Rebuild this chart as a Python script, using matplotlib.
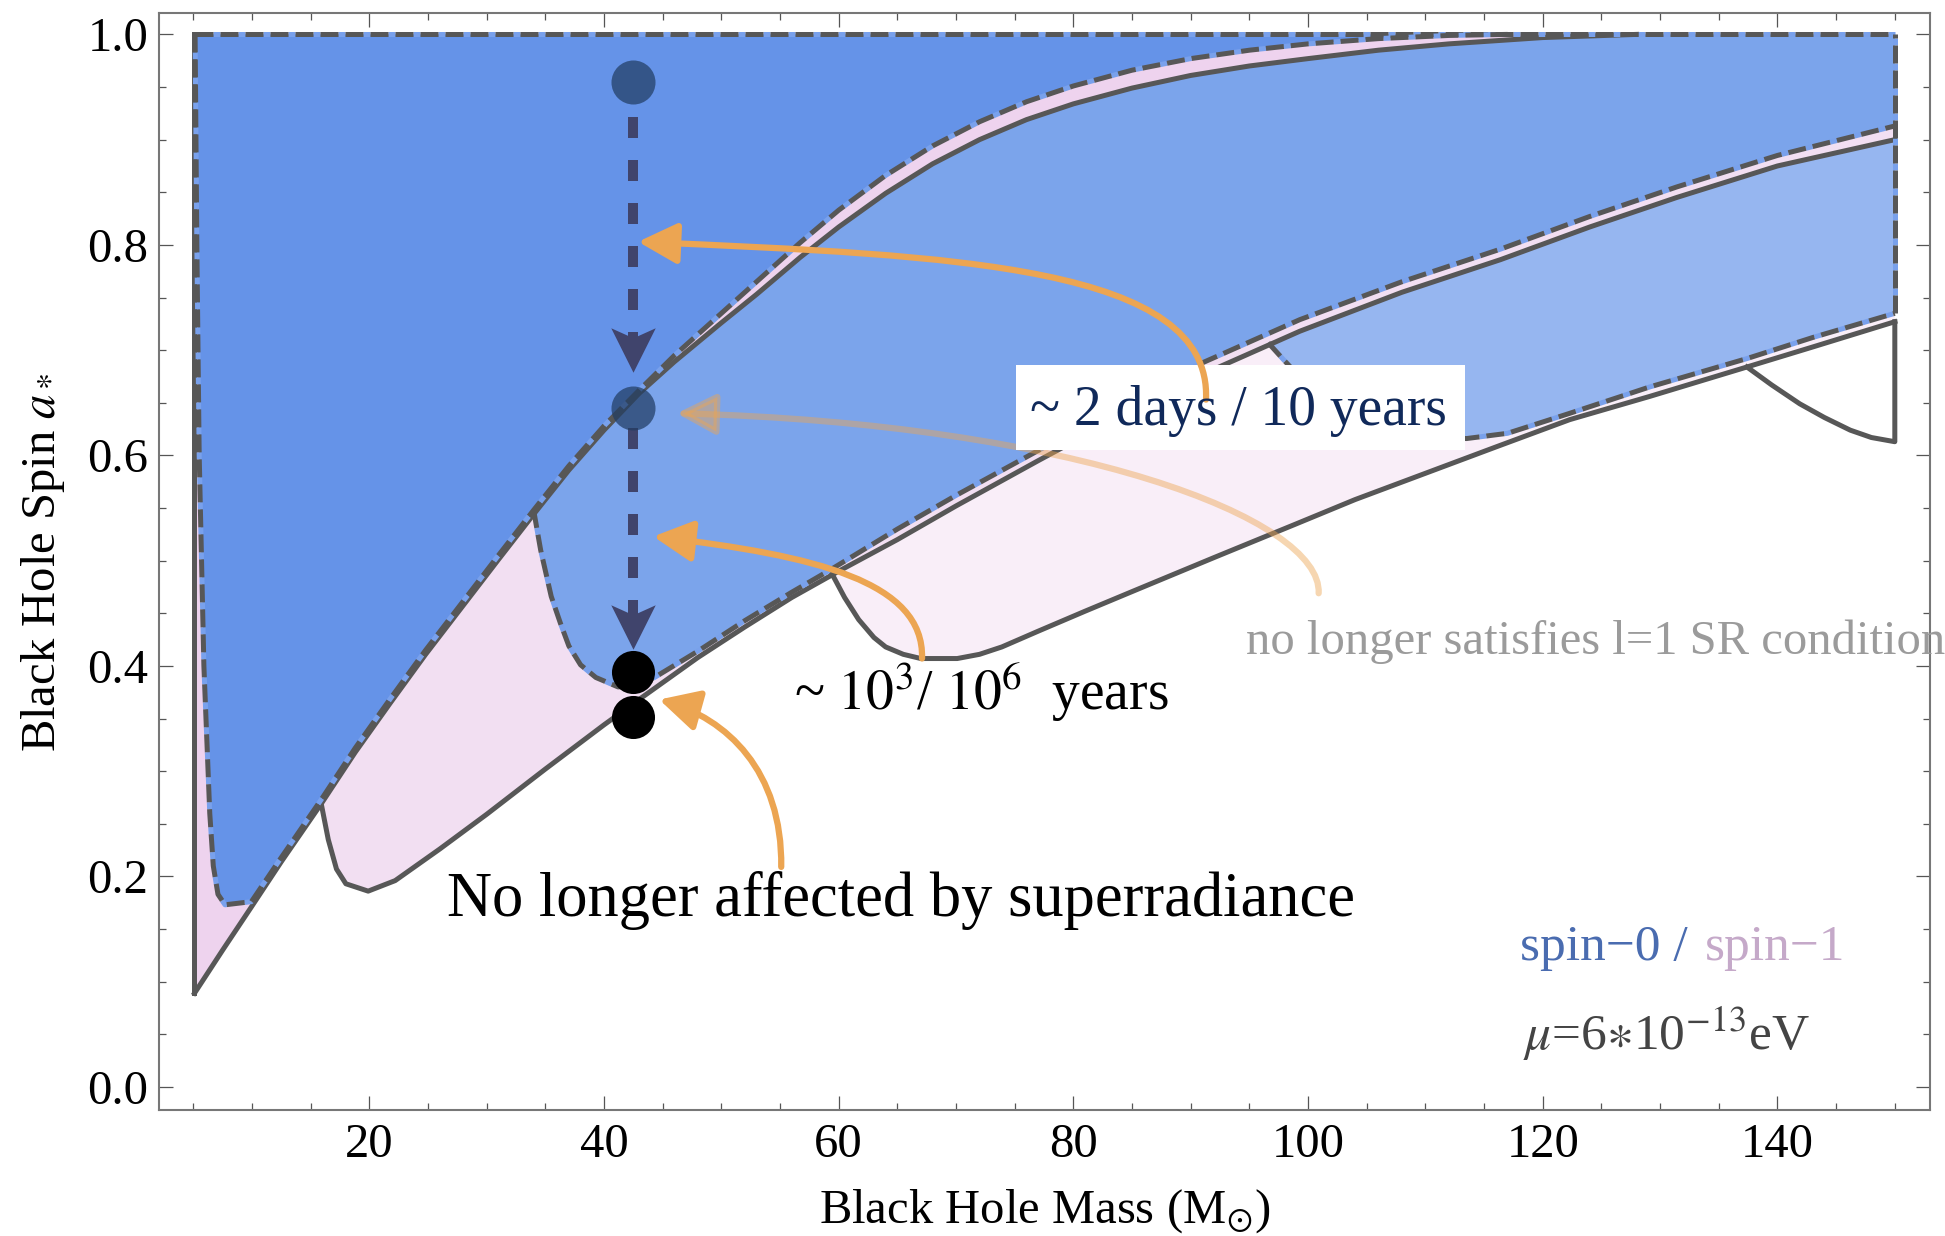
import numpy as np
import matplotlib.pyplot as plt
from matplotlib.path import Path
from matplotlib.patches import FancyArrowPatch, Rectangle, Polygon
from matplotlib.ticker import MultipleLocator, FixedLocator, FormatStrFormatter

plt.rcParams['font.family'] = ['Liberation Serif', 'DejaVu Serif']
plt.rcParams['mathtext.fontset'] = 'stix'

# ---- boundaries (mass in Msun, spin a*) ----
# spin-1 (solid lines)
a1_m = [5.1, 7.5, 9.95, 12.5, 15.9, 18.8, 21.8, 24.8, 27.9, 31, 34, 37, 40, 43, 46, 50, 53, 56.7,
        60, 64, 68, 72, 76, 80, 85, 90, 95, 100, 106, 112, 120, 128]
a1_s = [0.089, 0.130, 0.171, 0.214, 0.269, 0.318, 0.365, 0.411, 0.456, 0.501, 0.544, 0.586, 0.624,
        0.659, 0.689, 0.726, 0.753, 0.788, 0.817, 0.849, 0.877, 0.900, 0.919, 0.934, 0.949, 0.961,
        0.970, 0.977, 0.985, 0.991, 0.997, 1.0]
b1_m = [15.9, 16.5, 17.2, 18.0, 19.9, 22.2, 26, 30, 35, 40, 43.1, 48, 52, 56, 60, 65, 70, 77, 84,
        91, 99.3, 108, 116.4, 124, 131.4, 140, 150]
b1_s = [0.269, 0.235, 0.207, 0.193, 0.186, 0.196, 0.226, 0.259, 0.302, 0.344, 0.369, 0.408, 0.437,
        0.465, 0.490, 0.520, 0.552, 0.595, 0.637, 0.677, 0.718, 0.755, 0.786, 0.817, 0.845, 0.875,
        0.900]
c1_m = [59.4, 60.5, 61.7, 63, 64, 65.5, 67, 70.1, 72, 73.9, 77, 81, 85.3, 92, 99, 104, 110, 116,
        122.3, 129.1, 137.4, 143, 150]
c1_s = [0.488, 0.465, 0.444, 0.427, 0.418, 0.411, 0.407, 0.407, 0.411, 0.418, 0.433, 0.452, 0.472,
        0.503, 0.535, 0.558, 0.583, 0.608, 0.634, 0.656, 0.684, 0.703, 0.727]
d1_m = [137.4, 139.5, 141.9, 144, 146.2, 148, 150, 150]
d1_s = [0.684, 0.667, 0.649, 0.636, 0.624, 0.617, 0.613, 0.727]

# spin-0 (dashed lines)
l0_m = [5.15, 5.3, 5.5, 5.9, 6.4, 6.7, 7.1, 7.7]
l0_s = [1.0, 0.8, 0.6, 0.4, 0.26, 0.21, 0.183, 0.173]
a0_m = [9.95, 12.5, 15.9, 18.8, 21.8, 24.8, 27.9, 31, 34, 37, 40, 43, 46, 50, 53, 56.7, 60, 64, 68,
        72, 76, 80, 85, 90, 95, 100, 106, 112, 117]
a0_s = [0.176, 0.218, 0.273, 0.322, 0.369, 0.415, 0.460, 0.505, 0.548, 0.590, 0.628, 0.662, 0.695,
        0.735, 0.765, 0.802, 0.833, 0.866, 0.894, 0.917, 0.936, 0.951, 0.966, 0.977, 0.985, 0.991,
        0.996, 0.999, 1.0]
b0_m = [34.0, 34.6, 35.5, 36.3, 37.0, 38, 39.3, 41.2, 42.8, 44.3, 48, 52, 56, 59.4, 65, 70, 76.9,
        84, 91, 99.3, 108, 116.4, 124, 131.4, 140, 150]
b0_s = [0.548, 0.51, 0.466, 0.44, 0.419, 0.401, 0.389, 0.380, 0.382, 0.389, 0.414, 0.443, 0.470,
        0.492, 0.530, 0.562, 0.604, 0.646, 0.688, 0.729, 0.765, 0.796, 0.827, 0.855, 0.885, 0.913]
c0_m = [96.6, 97.9, 99.5, 101.5, 104, 107, 110, 113.5, 117, 122.3, 129.1, 137.4, 143, 150]
c0_s = [0.707, 0.691, 0.672, 0.652, 0.635, 0.624, 0.618, 0.616, 0.621, 0.640, 0.665, 0.692, 0.712,
        0.735]

# evolution track
track_m = 42.5
start_spins = [0.955, 0.645]
end_spins = [0.394, 0.351]
drop_from = [0.9215, 0.626]
drop_tip = [0.679, 0.416]

c_solid = '#575757'
c_orange = '#ECA552'


def pts(m, s):
    return list(zip(m, s))


fig = plt.figure(figsize=(19.45, 12.36), dpi=100)
ax = fig.add_axes([0.0819, 0.1019, 0.9104, 0.8873])
ax.set_xlim(2.1, 153.0)
ax.set_ylim(-0.022, 1.020)

# fills
a1 = pts(a1_m, a1_s)
b1 = pts(b1_m, b1_s)
c1 = pts(c1_m, c1_s)
a0 = pts(a0_m, a0_s)
b0 = pts(b0_m, b0_s)
c0 = pts(c0_m, c0_s)

polys = [
    ([(5.1, 1.0)] + a1, '#EED3EE'),
    (b1 + [(150, 1.0)] + [p for p in a1[::-1] if p[0] > 15.9], '#F2DFF2'),
    (c1 + [p for p in b1[::-1] if p[0] > 59.4], '#F9EEF8'),
    (pts(l0_m, l0_s) + a0, '#6593E8'),
    (b0 + [(150, 1.0)] + [p for p in a1[::-1] if p[0] > 34], '#7BA4EB'),
    (c0 + [p for p in b1[::-1] if p[0] > 96.6], '#96B6F0'),
]
for verts, col in polys:
    ax.add_patch(Polygon(verts, closed=True, facecolor=col, edgecolor='none', zorder=1))

# spin-1 solid boundaries
solid_kw = dict(color=c_solid, lw=3.6, zorder=2, solid_joinstyle='round')
ax.plot([5.1, 5.1], [0.089, 1.0], **solid_kw)
ax.plot(a1_m, a1_s, **solid_kw)
ax.plot(b1_m, b1_s, **solid_kw)
ax.plot(c1_m, c1_s, **solid_kw)
ax.plot(d1_m, d1_s, **solid_kw)

# spin-0 dashed boundaries
dash_kw = dict(color=c_solid, lw=3.6, ls=(0, (3.6, 1.4)), gapcolor='#79A1EC', zorder=3)
ax.plot([5.15, 150], [1.0, 1.0], **dash_kw)
ax.plot(l0_m + a0_m, l0_s + a0_s, **dash_kw)
ax.plot(b0_m, b0_s, **dash_kw)
ax.plot(c0_m, c0_s, **dash_kw)
ax.plot([150, 150], [c0_s[-1], 1.0], **dash_kw)

# evolution track: dashed drops with stealth heads
head = Path([(0, -1), (-1, 1), (0, 0.55), (1, 1), (0, -1)],
            [Path.MOVETO, Path.LINETO, Path.LINETO, Path.LINETO, Path.CLOSEPOLY])
for y0, yt in zip(drop_from, drop_tip):
    ax.plot([track_m, track_m], [y0, yt + 0.03], color='#40446C', lw=7.2,
            ls=(0, (2.1, 2.2)), zorder=4)
    ax.plot([track_m], [yt + 0.0209], marker=head, ms=32, color='#40446C', mew=0, zorder=4)
ax.plot([track_m] * 2, start_spins, 'o', ms=31.7, color='#223D63', alpha=0.72, mew=0, zorder=5)
ax.plot([track_m] * 2, end_spins, 'o', ms=31, color='black', mew=0, zorder=5)

# label box
ax.add_patch(Rectangle((75.1, 0.605), 38.3, 0.081, facecolor='white', edgecolor='none', zorder=6))

# curved arrows (cubic bezier: start, ctrl1, ctrl2, tip)
arrows = [
    ([(100.9, 0.469), (101.2, 0.54), (80, 0.63), (46.2, 0.640)], 0.45, 5.5),
    ([(91.3, 0.653), (91.8, 0.78), (70, 0.79), (42.9, 0.803)], 1.0, 7),
    ([(67.1, 0.407), (67.3, 0.48), (58, 0.505), (44.2, 0.523)], 1.0, 7),
    ([(55.1, 0.209), (55.2, 0.30), (50.5, 0.35), (44.7, 0.368)], 1.0, 7),
]
for verts, alpha, z in arrows:
    p = Path(verts, [Path.MOVETO, Path.CURVE4, Path.CURVE4, Path.CURVE4])
    ax.add_patch(FancyArrowPatch(path=p, arrowstyle='-|>,head_length=24,head_width=12.5',
                                 mutation_scale=1, color=c_orange, lw=4.5, alpha=alpha,
                                 transform=ax.transData, zorder=z))

# texts
ax.text(94.1, 0.629, '~ 2 days / 10 years', color='#10295A', fontsize=40, ha='center',
        va='baseline', zorder=8)
ax.text(56.2, 0.359, r'~ $10^3$/ $10^6$  years', color='black', fontsize=40, ha='left',
        va='baseline', zorder=8)
ax.text(26.6, 0.1626, 'No longer affected by superradiance', color='black', fontsize=45,
        ha='left', va='baseline', zorder=8)
ax.text(94.7, 0.411, 'no longer satisfies l=1 SR condition', color='#9B9B9B', fontsize=35,
        ha='left', va='baseline', zorder=8, clip_on=False)
ax.text(118.1, 0.1204, 'spin\u22120 /', color='#4A6CB0', fontsize=37, ha='left', va='baseline')
ax.text(145.8, 0.1204, 'spin\u22121', color='#C5A9C9', fontsize=37, ha='right', va='baseline')
ax.text(118.3, 0.0348, r'$\mu$=6$\ast$10$^{-13}$eV', color='#444444', fontsize=37, ha='left',
        va='baseline')

# axes styling
ax.xaxis.set_major_locator(FixedLocator([20, 40, 60, 80, 100, 120, 140]))
ax.xaxis.set_minor_locator(MultipleLocator(5))
ax.yaxis.set_major_locator(MultipleLocator(0.2))
ax.yaxis.set_minor_locator(MultipleLocator(0.05))
ax.yaxis.set_major_formatter(FormatStrFormatter('%.1f'))
ax.tick_params(which='both', direction='in', top=True, right=True, color='#555555', width=0.9)
ax.tick_params(which='major', length=10, labelsize=35)
ax.tick_params(axis='x', which='major', pad=9)
ax.tick_params(axis='y', which='major', pad=8)
ax.tick_params(which='minor', length=5)
for sp in ax.spines.values():
    sp.set_color('#777777')
    sp.set_linewidth(1.5)

ax.set_xlabel(r'Black Hole Mass (M$_{\odot}$)', fontsize=35)
ax.set_ylabel(r'Black Hole Spin $a_*$', fontsize=35)
ax.xaxis.set_label_coords(0.5, -0.070)
ax.yaxis.set_label_coords(-0.052, 0.5)

fig.savefig('out.png', dpi=100)
